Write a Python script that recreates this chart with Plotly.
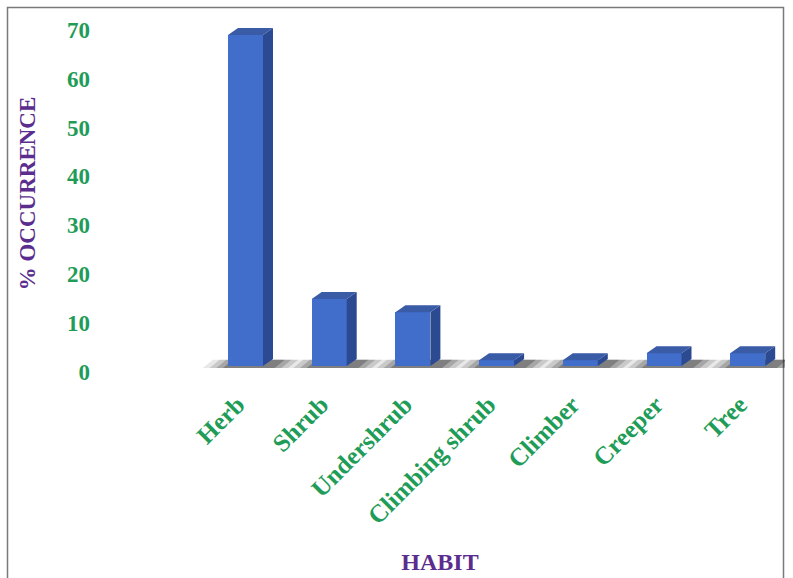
import plotly.graph_objects as go

# ---- data ----
habits = ["Herb", "Shrub", "Undershrub", "Climbing shrub", "Climber", "Creeper", "Tree"]
occurrence = [67.7, 13.7, 11.0, 1.2, 1.2, 2.6, 2.6]
y_ticks = [0, 10, 20, 30, 40, 50, 60, 70]

# ---- layout geometry (pixels) ----
W, H = 793, 578
ML, MR, MT, MB = 95, 8, 15, 206
plot_w = W - ML - MR
plot_h = H - MT - MB
spacing_px = 83.7
first_center_px = 245.5
x0 = -(first_center_px - ML) / spacing_px
x1 = x0 + plot_w / spacing_px
px_per_unit = 4.89
zero_px = 366
y0 = -(MT + plot_h - zero_px) / px_per_unit
y1 = y0 + plot_h / px_per_unit

bw = 35 / spacing_px          # bar width in category units
dx = 10 / spacing_px          # depth offset x
dy = 7 / px_per_unit          # depth offset y

FRONT = "#416DCB"
SIDE = "#2B4A92"
TOP = "#3A5BA6"
GREEN = "#1E9C58"
PURPLE = "#5B2D8E"
FONT = "Liberation Serif"

idx = list(range(len(habits)))
fig = go.Figure()

# floor shadows (soft, layered) on the base axes, so they sit under the bars
for ext_l, ext_r, op in [(0.30, 0.40, 0.10), (0.22, 0.30, 0.15), (0.14, 0.22, 0.20), (0.06, 0.14, 0.28)]:
    sx, sy = [], []
    for i in idx:
        l = i - bw / 2 - ext_l
        r = i + bw / 2 + ext_r
        sx += [l, r, r + dx, l + dx, l, None]
        sy += [-0.4, -0.4, dy * 0.9, dy * 0.9, -0.4, None]
    fig.add_trace(go.Scatter(x=sx, y=sy, fill="toself", mode="none",
                             fillcolor=f"rgba(30,30,30,{op})", hoverinfo="skip", showlegend=False))

# front faces
fig.add_trace(go.Bar(x=idx, y=occurrence, width=bw, marker=dict(color=FRONT, line=dict(width=0)),
                     showlegend=False, name="% occurrence", xaxis="x2", yaxis="y2"))

# side faces
sx, sy = [], []
for i, v in zip(idx, occurrence):
    r = i + bw / 2
    sx += [r, r + dx, r + dx, r, r, None]
    sy += [0, dy, v + dy, v, 0, None]
fig.add_trace(go.Scatter(x=sx, y=sy, fill="toself", mode="none", fillcolor=SIDE,
                         hoverinfo="skip", showlegend=False, xaxis="x2", yaxis="y2"))

# top faces
tx, ty = [], []
for i, v in zip(idx, occurrence):
    l = i - bw / 2
    r = i + bw / 2
    tx += [l, l + dx, r + dx, r, l, None]
    ty += [v, v + dy, v + dy, v, v, None]
fig.add_trace(go.Scatter(x=tx, y=ty, fill="toself", mode="none", fillcolor=TOP,
                         hoverinfo="skip", showlegend=False, xaxis="x2", yaxis="y2"))

# outer frame (pixel positions converted to paper coords)
def px_x(p):
    return (p - ML) / plot_w

def px_y(p):
    return 1 - (p - MT) / plot_h

fig.add_shape(type="rect", xref="paper", yref="paper",
              x0=px_x(7.5), x1=px_x(783.5), y0=px_y(590), y1=px_y(7.5),
              line=dict(color="#7a7a7a", width=1.5), fillcolor="rgba(0,0,0,0)", layer="below")

hidden = dict(showgrid=False, zeroline=False, showline=False, ticks="", showticklabels=False)

fig.update_layout(
    width=W, height=H,
    margin=dict(l=ML, r=MR, t=MT, b=MB),
    paper_bgcolor="white", plot_bgcolor="white",
    font=dict(family=FONT),
    bargap=0,
    xaxis=dict(
        range=[x0, x1], tickmode="array", tickvals=idx, ticktext=habits,
        tickangle=-45, showgrid=False, zeroline=False, showline=False, ticks="",
        tickfont=dict(family=FONT, size=25, color=GREEN, weight="bold"),
        ticklabelstandoff=12, ticklabelshift=-8,
        title=dict(text="<b>HABIT</b>", font=dict(family=FONT, size=24, color=PURPLE), standoff=24),
    ),
    yaxis=dict(
        range=[y0, y1], tickmode="array", tickvals=y_ticks,
        showgrid=False, zeroline=False, showline=False, ticks="",
        tickfont=dict(family=FONT, size=23, color=GREEN, weight="bold"),
        ticklabelshift=6, ticklabelstandoff=4,
        title=dict(text="<b>% OCCURRENCE</b>", font=dict(family=FONT, size=23, color=PURPLE), standoff=24),
    ),
    xaxis2=dict(range=[x0, x1], overlaying="x", **hidden),
    yaxis2=dict(range=[y0, y1], overlaying="y", **hidden),
)

fig.write_html("out.html")
